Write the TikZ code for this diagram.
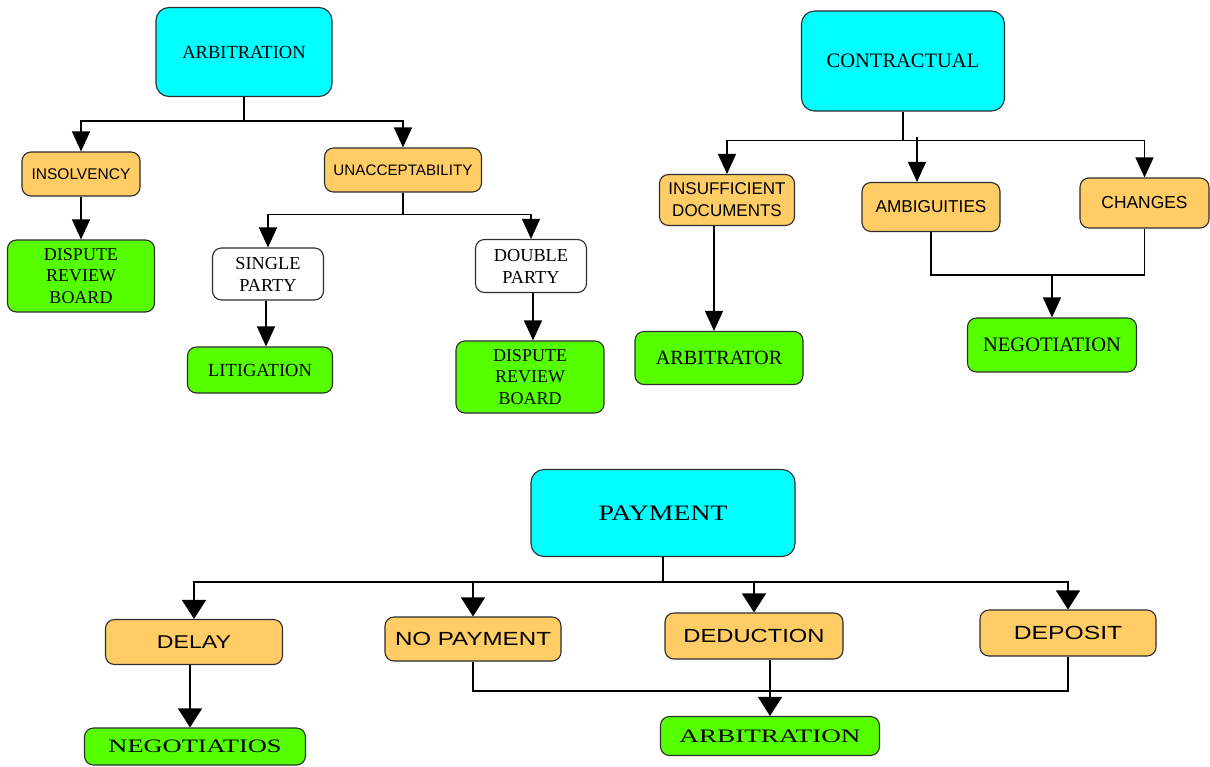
\documentclass[tikz,border=0pt]{standalone}
\usepackage{graphicx}
\usepackage{fontspec}
\setmainfont{Liberation Serif}
\newfontfamily\arialfont{Liberation Sans}
\usetikzlibrary{arrows.meta,calc}

\definecolor{topcyan}{RGB}{0,255,255}
\definecolor{midorange}{RGB}{255,204,102}
\definecolor{endgreen}{RGB}{85,255,0}
\definecolor{edgegray}{RGB}{45,45,45}

% font size helper: size and baseline skip
\newcommand\fsz[2]{\fontsize{#1}{#2}\selectfont}
% horizontally widened label
\newcommand\wide[2]{\scalebox{#1}[1]{#2}}

\tikzset{
  box/.style={draw=edgegray, line width=1.1pt, rounded corners=9pt,
              align=center, inner sep=0pt},
  topbox/.style={box, fill=topcyan, rounded corners=13pt},
  midbox/.style={box, fill=midorange},
  endbox/.style={box, fill=endgreen},
  plainbox/.style={box, fill=white},
  link/.style={line width=1.3pt, draw=black},
  arrow/.style={link, -{Triangle[width=18pt,length=20pt]}},
  bigarrow/.style={link, -{Triangle[width=24pt,length=19pt]}},
}

\begin{document}
\begin{tikzpicture}[x=1pt,y=-1pt]
\useasboundingbox (0,0) rectangle (1210,766);

% ---------------- Arbitration tree ----------------
\node[topbox, minimum width=176, minimum height=89, font=\fsz{18.5}{22}]
  (arbT) at (244,52) {ARBITRATION};
\node[midbox, minimum width=118, minimum height=44, font=\arialfont\fsz{15.5}{19}]
  (ins) at (81,174) {INSOLVENCY};
\node[midbox, minimum width=157, minimum height=44, font=\arialfont\fsz{15.2}{19}]
  (una) at (403,170) {UNACCEPTABILITY};
\node[endbox, minimum width=147, minimum height=72, font=\fsz{18}{21.5}]
  (drbA) at (81,276) {DISPUTE\\REVIEW\\BOARD};
\node[plainbox, minimum width=111, minimum height=52, font=\fsz{18.3}{22}]
  (sgl) at (268,274) {SINGLE\\PARTY};
\node[plainbox, minimum width=111, minimum height=53, font=\fsz{18.3}{22}]
  (dbl) at (531,266) {DOUBLE\\PARTY};
\node[endbox, minimum width=145, minimum height=46, font=\fsz{18.5}{22}]
  (lit) at (260,370) {LITIGATION};
\node[endbox, minimum width=148, minimum height=72, font=\fsz{18}{21.5}]
  (drbB) at (530,377) {DISPUTE\\REVIEW\\BOARD};

\draw[arrow] (arbT.south) -- ++(0,24) -| (ins.north);
\draw[arrow] (arbT.south) -- ++(0,24) -| (una.north);
\draw[arrow] (ins.south) -- (drbA.north);
\draw[arrow] (una.south) -- ++(0,22) -| (sgl.north);
\draw[arrow] (una.south) -- ++(0,22) -| (dbl.north);
\draw[arrow] ([xshift=-2]sgl.south) -- ([xshift=-2]sgl.south |- lit.north);
\draw[arrow] ([xshift=2]dbl.south) -- ([xshift=2]dbl.south |- drbB.north);

% ---------------- Contractual tree ----------------
\node[topbox, minimum width=203, minimum height=100, font=\fsz{20.5}{24}]
  (conT) at (903,61) {CONTRACTUAL};
\node[midbox, minimum width=135, minimum height=51, font=\arialfont\fsz{17}{22}]
  (insd) at (727,200) {INSUFFICIENT\\DOCUMENTS};
\node[midbox, minimum width=138, minimum height=49, font=\arialfont\fsz{17.2}{21}]
  (amb) at (931,207) {AMBIGUITIES};
\node[midbox, minimum width=129, minimum height=50, font=\arialfont\fsz{17.4}{21}]
  (chg) at (1144.5,203) {CHANGES};
\node[endbox, minimum width=168, minimum height=53, font=\fsz{20.2}{24}]
  (abr) at (719,358) {ARBITRATOR};
\node[endbox, minimum width=169, minimum height=54, font=\fsz{20.5}{24}]
  (neg) at (1052,345) {NEGOTIATION};

\draw[arrow] (conT.south) -- ++(0,29) -| (insd.north);
\draw[arrow] (conT.south) -- ++(0,29) -| (chg.north);
\draw[arrow] ([xshift=-14]amb.north |- 0,137) -- ([xshift=-14]amb.north);
\draw[arrow] ([xshift=-13]insd.south) -- ([xshift=-13]insd.south |- abr.north);
\coordinate (cjoin) at (1052,275);
\draw[link] (amb.south) |- (cjoin) -| (chg.south);
\draw[arrow] (cjoin) -- (neg.north);

% ---------------- Payment tree ----------------
\node[topbox, minimum width=264, minimum height=87, font=\fsz{22}{26}]
  (payT) at (663,513) {\wide{1.26}{PAYMENT}};
\node[midbox, minimum width=177, minimum height=45, font=\arialfont\fsz{18.5}{22}]
  (del) at (194,642) {\wide{1.25}{DELAY}};
\node[midbox, minimum width=176, minimum height=44, font=\arialfont\fsz{19}{22}]
  (nop) at (473,639) {\wide{1.27}{NO PAYMENT}};
\node[midbox, minimum width=178, minimum height=46, font=\arialfont\fsz{19}{22}]
  (ded) at (754,636) {\wide{1.25}{DEDUCTION}};
\node[midbox, minimum width=176, minimum height=46, font=\arialfont\fsz{19}{22}]
  (dep) at (1068,633) {\wide{1.3}{DEPOSIT}};
\node[endbox, minimum width=221, minimum height=37, font=\fsz{19}{22}]
  (negB) at (195,746.5) {\wide{1.39}{NEGOTIATIOS}};
\node[endbox, minimum width=219, minimum height=39, font=\fsz{19}{22}]
  (arbB) at (770,736) {\wide{1.43}{ARBITRATION}};

\draw[bigarrow] (payT.south) -- ++(0,25) -| (del.north);
\draw[bigarrow] (payT.south) -- ++(0,25) -| (nop.north);
\draw[bigarrow] (payT.south) -- ++(0,25) -| (ded.north);
\draw[bigarrow] (payT.south) -- ++(0,25) -| (dep.north);
\draw[bigarrow] ([xshift=-4]del.south) -- ([xshift=-4]del.south |- negB.north);
\coordinate (pjoin) at (770,691);
\draw[link] (nop.south) |- (pjoin) -| (dep.south);
\draw[bigarrow] (ded.south -| arbB.north) -- (arbB.north);

\end{tikzpicture}
\end{document}
